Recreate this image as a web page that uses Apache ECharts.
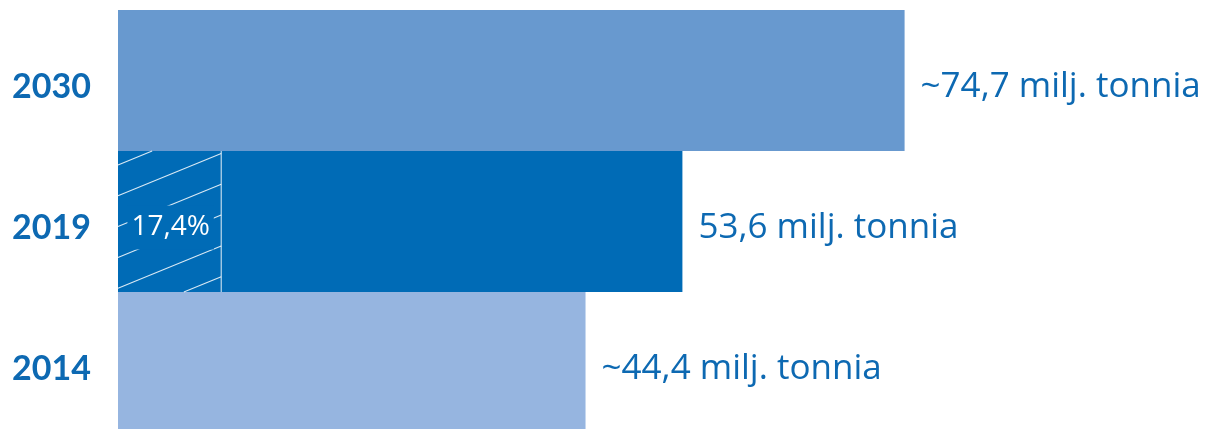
<!DOCTYPE html>
<html>
<head>
<meta charset="utf-8">
<script src="https://cdn.jsdelivr.net/npm/echarts@6/dist/echarts.min.js"></script>
<style>
  html, body { margin: 0; padding: 0; background: #ffffff; }
  #chart { width: 1210px; height: 429px; }
</style>
</head>
<body>
<div id="chart"></div>
<script>
// ---- data ----
const years = ['2014', '2019', '2030'];
const tonnes = [44.4, 53.6, 74.7];
const valueLabels = ['~44,4 milj. tonnia', '53,6 milj. tonnia', '~74,7 milj. tonnia'];
const shareYears = ['2019'];
const shareValues = [9.8];
const shareLabels = ['17,4%'];

// ---- styles ----
const barColors = ['#96b5e0', '#006bb6', '#6899cf'];
const textColor = '#0d69b2';
const yearFont = 'Lato, "Open Sans", sans-serif';
const labelFont = '"Open Sans", Lato, sans-serif';

const chart = echarts.init(document.getElementById('chart'), null, { renderer: 'canvas' });

function renderHatch(params, api) {
  const v = api.value(0);
  const cat = api.value(1);
  const p0 = api.coord([0, cat]);
  const p1 = api.coord([v, cat]);
  const h = api.size([0, 1])[1];
  const xL = p0[0], xR = p1[0];
  const yT = p0[1] - h / 2, yB = p0[1] + h / 2;
  const t = 0.41, spacing = 30.8;
  const children = [];
  for (let b = yT + 14; b - t * (xR - xL) < yB; b += spacing) {
    const xa = Math.max(xL, xL + (b - yB) / t);
    const xb = Math.min(xR, xL + (b - yT) / t);
    if (xa < xb) {
      children.push({
        type: 'line',
        shape: { x1: xa, y1: b - t * (xa - xL), x2: xb, y2: b - t * (xb - xL) },
        style: { stroke: 'rgba(255,255,255,0.85)', lineWidth: 1.1 }
      });
    }
  }
  children.push({
    type: 'line',
    shape: { x1: xR, y1: yT, x2: xR, y2: yB },
    style: { stroke: 'rgba(255,255,255,0.9)', lineWidth: 1 }
  });
  children.push({
    type: 'text',
    x: (xL + xR) / 2 + 1,
    y: p0[1] + 6,
    style: {
      text: shareLabels[params.dataIndex],
      fill: '#ffffff',
      font: '28px ' + labelFont,
      align: 'center',
      verticalAlign: 'middle',
      backgroundColor: barColors[1],
      padding: [8, 4]
    }
  });
  return { type: 'group', children: children };
}

const option = {
  backgroundColor: '#ffffff',
  animation: false,
  grid: { left: 118, width: 1053, top: 10, height: 423, containLabel: false, outerBoundsMode: 'none' },
  xAxis: {
    type: 'value', min: 0, max: 100, show: false
  },
  yAxis: {
    type: 'category',
    data: years,
    axisLine: { show: false },
    axisTick: { show: false },
    splitLine: { show: false },
    axisLabel: {
      margin: 27,
      color: textColor,
      fontSize: 34,
      fontWeight: 'bold',
      fontFamily: yearFont,
      verticalAlign: 'top',
      lineHeight: 14
    }
  },
  series: [
    {
      type: 'bar',
      barWidth: '100%',
      barCategoryGap: '0%',
      data: tonnes.map((v, i) => ({ value: v, itemStyle: { color: barColors[i] } })),
      label: {
        show: true,
        position: 'right',
        distance: 16,
        offset: [0, 7],
        formatter: (p) => valueLabels[p.dataIndex],
        color: textColor,
        fontSize: 35,
        fontFamily: labelFont,
        fontWeight: 'normal'
      }
    },
    {
      type: 'custom',
      z: 5,
      renderItem: renderHatch,
      encode: { x: 0, y: 1 },
      data: shareValues.map((v, i) => [v, shareYears[i]])
    }
  ]
};
chart.setOption(option);
</script>
</body>
</html>
